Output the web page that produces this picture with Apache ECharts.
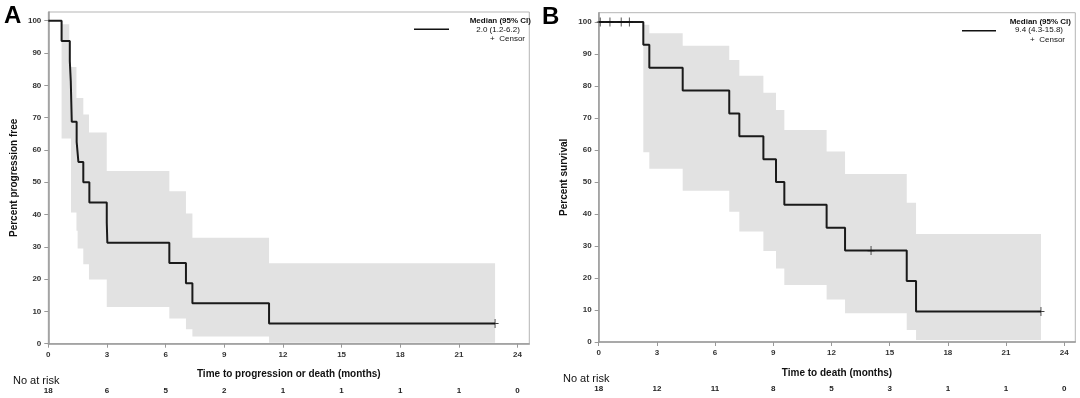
<!DOCTYPE html>
<html>
<head>
<meta charset="utf-8">
<script src="https://cdn.jsdelivr.net/npm/echarts@6/dist/echarts.min.js"></script>
<style>
  html, body { margin: 0; padding: 0; background: #fff; }
  #chart { width: 1080px; height: 398px; }
</style>
</head>
<body>
<div id="chart"></div>
<script>
// axis ticks
const xTicks = [0, 3, 6, 9, 12, 15, 18, 21, 24];
const yTicks = [0, 10, 20, 30, 40, 50, 60, 70, 80, 90, 100];

// number at risk under each x tick
const atRiskA = [18, 6, 5, 2, 1, 1, 1, 1, 0];
const atRiskB = [18, 12, 11, 8, 5, 3, 1, 1, 0];

// panel A: progression-free survival, [months, percent]
const kmA = [[0, 100], [0.68, 93.75], [1.1, 87.5], [1.15, 81.25], [1.2, 68.75], [1.45, 62.5],
  [1.54, 56.25], [1.79, 50], [2.1, 43.75], [2.99, 37.5], [3.02, 31.25], [6.19, 25],
  [7.04, 18.75], [7.37, 12.5], [11.29, 6.25], [22.85, 6.25]];
const censorA = [[22.85, 6.25]];
const bandTimeA = [0.68, 1.07, 1.16, 1.44, 1.5, 1.79, 2.08, 2.99, 6.19, 7.04, 7.37, 11.29, 22.85];
const bandUpperA = [98.9, 85.7, 85.7, 76.1, 76.1, 71, 65.4, 53.5, 47.2, 40.3, 32.8, 24.9, 24.9];
const bandLowerA = [63.5, 63.5, 40.6, 35, 29.5, 24.6, 19.9, 11.4, 7.8, 4.5, 2.2, 0.3, 0.3];

// panel B: overall survival
const kmB = [[0, 100], [2.3, 92.86], [2.61, 85.71], [4.33, 78.57], [6.73, 71.43], [7.25, 64.29],
  [8.49, 57.14], [9.14, 50], [9.57, 42.86], [11.75, 35.71], [12.7, 28.57], [15.88, 19.05],
  [16.36, 9.52], [22.8, 9.52]];
const censorB = [[0.08, 100], [0.58, 100], [1.16, 100], [1.58, 100], [14.04, 28.57], [22.8, 9.52]];
const bandTimeB = [2.3, 2.61, 4.33, 6.73, 7.25, 8.49, 9.14, 9.57, 11.75, 12.7, 15.88, 16.36, 22.8];
const bandUpperB = [99.1, 96.5, 92.6, 88.1, 83.2, 77.9, 72.5, 66.25, 59.5, 52.5, 43.5, 33.75, 33.75];
const bandLowerB = [59.3, 54.1, 47.3, 40.7, 34.5, 28.4, 23, 17.8, 13.3, 9, 3.75, 0.6, 0.6];

const medianA = '2.0 (1.2-6.2)';
const medianB = '9.4 (4.3-15.8)';

const FONT = 'Liberation Sans, Arial, sans-serif';
const chart = echarts.init(document.getElementById('chart'));

function xAxes(gi, title, risk, max) {
  return [{
    gridIndex: gi, type: 'value', min: 0, max: max,
    name: title, nameLocation: 'middle', nameGap: 26,
    nameTextStyle: { fontFamily: FONT, fontWeight: 'bold', fontSize: 10, color: '#111' },
    axisLine: { show: true, lineStyle: { color: '#999', width: 1.5 } },
    axisTick: { show: true, length: 4, customValues: xTicks, lineStyle: { color: '#999' } },
    axisLabel: { customValues: xTicks, margin: 7, fontFamily: FONT, fontWeight: 'bold', fontSize: 8, color: '#333' },
    splitLine: { show: false }
  }, {
    gridIndex: gi, type: 'value', min: 0, max: max, position: 'bottom', offset: 41,
    axisLine: { show: false }, axisTick: { show: false }, splitLine: { show: false },
    axisLabel: {
      customValues: xTicks, margin: 2, fontFamily: FONT, fontWeight: 'bold', fontSize: 8, color: '#222',
      formatter: v => String(risk[xTicks.indexOf(v)])
    }
  }];
}

function yAxis(gi, title, max) {
  return {
    gridIndex: gi, type: 'value', min: 0, max: max,
    name: title, nameLocation: 'middle', nameGap: 29,
    nameTextStyle: { fontFamily: FONT, fontWeight: 'bold', fontSize: 10, color: '#111' },
    axisLine: { show: true, lineStyle: { color: '#999', width: 1.5 } },
    axisTick: { show: true, length: 4, customValues: yTicks, lineStyle: { color: '#999' } },
    axisLabel: { customValues: yTicks, margin: 7, fontFamily: FONT, fontWeight: 'bold', fontSize: 8, color: '#333' },
    splitLine: { show: false }
  };
}

// confidence band drawn as one stepped polygon through the axis scales
function bandSeries(gi, bt, up, lo) {
  return {
    type: 'custom', xAxisIndex: gi * 2, yAxisIndex: gi, silent: true, z: 1,
    data: bt.map((t, i) => [t, up[i], lo[i]]),
    encode: { x: 0, y: [1, 2] },
    renderItem: function (params, api) {
      if (params.dataIndex !== 0) return null;
      const n = bt.length;
      const pts = [];
      for (let i = 0; i < n; i++) {
        pts.push(api.coord([bt[i], up[i]]));
        if (i < n - 1) pts.push(api.coord([bt[i + 1], up[i]]));
      }
      pts.push(api.coord([bt[n - 1], lo[n - 1]]));
      for (let i = n - 2; i >= 0; i--) {
        pts.push(api.coord([bt[i + 1], lo[i]]));
        pts.push(api.coord([bt[i], lo[i]]));
      }
      return { type: 'polygon', shape: { points: pts }, style: { fill: '#e2e2e2' } };
    }
  };
}

function panel(gi, km, censor, bt, up, lo) {
  const ax = { xAxisIndex: gi * 2, yAxisIndex: gi };
  return [
    bandSeries(gi, bt, up, lo),
    Object.assign({ type: 'line', step: 'end', symbol: 'none', z: 5,
      lineStyle: { color: '#1a1a1a', width: 2 }, data: km }, ax),
    Object.assign({ type: 'scatter', symbol: 'path://M5,0L5,10M0,5L10,5', symbolSize: [7, 9], z: 6,
      itemStyle: { color: 'none', borderColor: '#111', borderWidth: 1 }, data: censor }, ax)
  ];
}

function legend(lineX1, lineX2, lineY, rightX, medX, median, topY) {
  const t = { fontFamily: FONT, fontSize: 8, fill: '#111' };
  return [
    { type: 'line', shape: { x1: lineX1, y1: lineY, x2: lineX2, y2: lineY }, style: { stroke: '#111', lineWidth: 1.5 } },
    { type: 'text', x: rightX, y: topY, style: Object.assign({}, t, { text: 'Median (95% CI)', fontWeight: 'bold', align: 'right', verticalAlign: 'middle' }) },
    { type: 'text', x: medX, y: topY + 8.5, style: Object.assign({}, t, { text: median, align: 'center', verticalAlign: 'middle' }) },
    { type: 'text', x: rightX - 6, y: topY + 18, style: Object.assign({}, t, { text: '+  Censor', align: 'right', verticalAlign: 'middle' }) }
  ];
}

chart.setOption({
  animation: false,
  backgroundColor: '#fff',
  grid: [
    { left: 48.3, right: 550.7, top: 12, bottom: 54.3, show: true, borderColor: '#b5b5b5', borderWidth: 1 },
    { left: 598.7, right: 4.7, top: 12.7, bottom: 56, show: true, borderColor: '#b5b5b5', borderWidth: 1 }
  ],
  xAxis: [].concat(
    xAxes(0, 'Time to progression or death (months)', atRiskA, 24.6),
    xAxes(1, 'Time to death (months)', atRiskB, 24.57)
  ),
  yAxis: [yAxis(0, 'Percent progression free', 102.7), yAxis(1, 'Percent survival', 102.9)],
  series: [].concat(
    panel(0, kmA, censorA, bandTimeA, bandUpperA, bandLowerA),
    panel(1, kmB, censorB, bandTimeB, bandUpperB, bandLowerB)
  ),
  graphic: [].concat(
    [
      { type: 'text', x: 4, y: 4, style: { text: 'A', fontFamily: FONT, fontWeight: 'bold', fontSize: 24, fill: '#000' } },
      { type: 'text', x: 542, y: 5, style: { text: 'B', fontFamily: FONT, fontWeight: 'bold', fontSize: 24, fill: '#000' } },
      { type: 'text', x: 13, y: 381, style: { text: 'No at risk', fontFamily: FONT, fontSize: 11, fill: '#111', verticalAlign: 'middle' } },
      { type: 'text', x: 563, y: 379, style: { text: 'No at risk', fontFamily: FONT, fontSize: 11, fill: '#111', verticalAlign: 'middle' } }
    ],
    legend(414, 449, 29.3, 531, 498, medianA, 21),
    legend(962, 996, 30.7, 1071, 1039, medianB, 21.7)
  )
});
</script>
</body>
</html>
